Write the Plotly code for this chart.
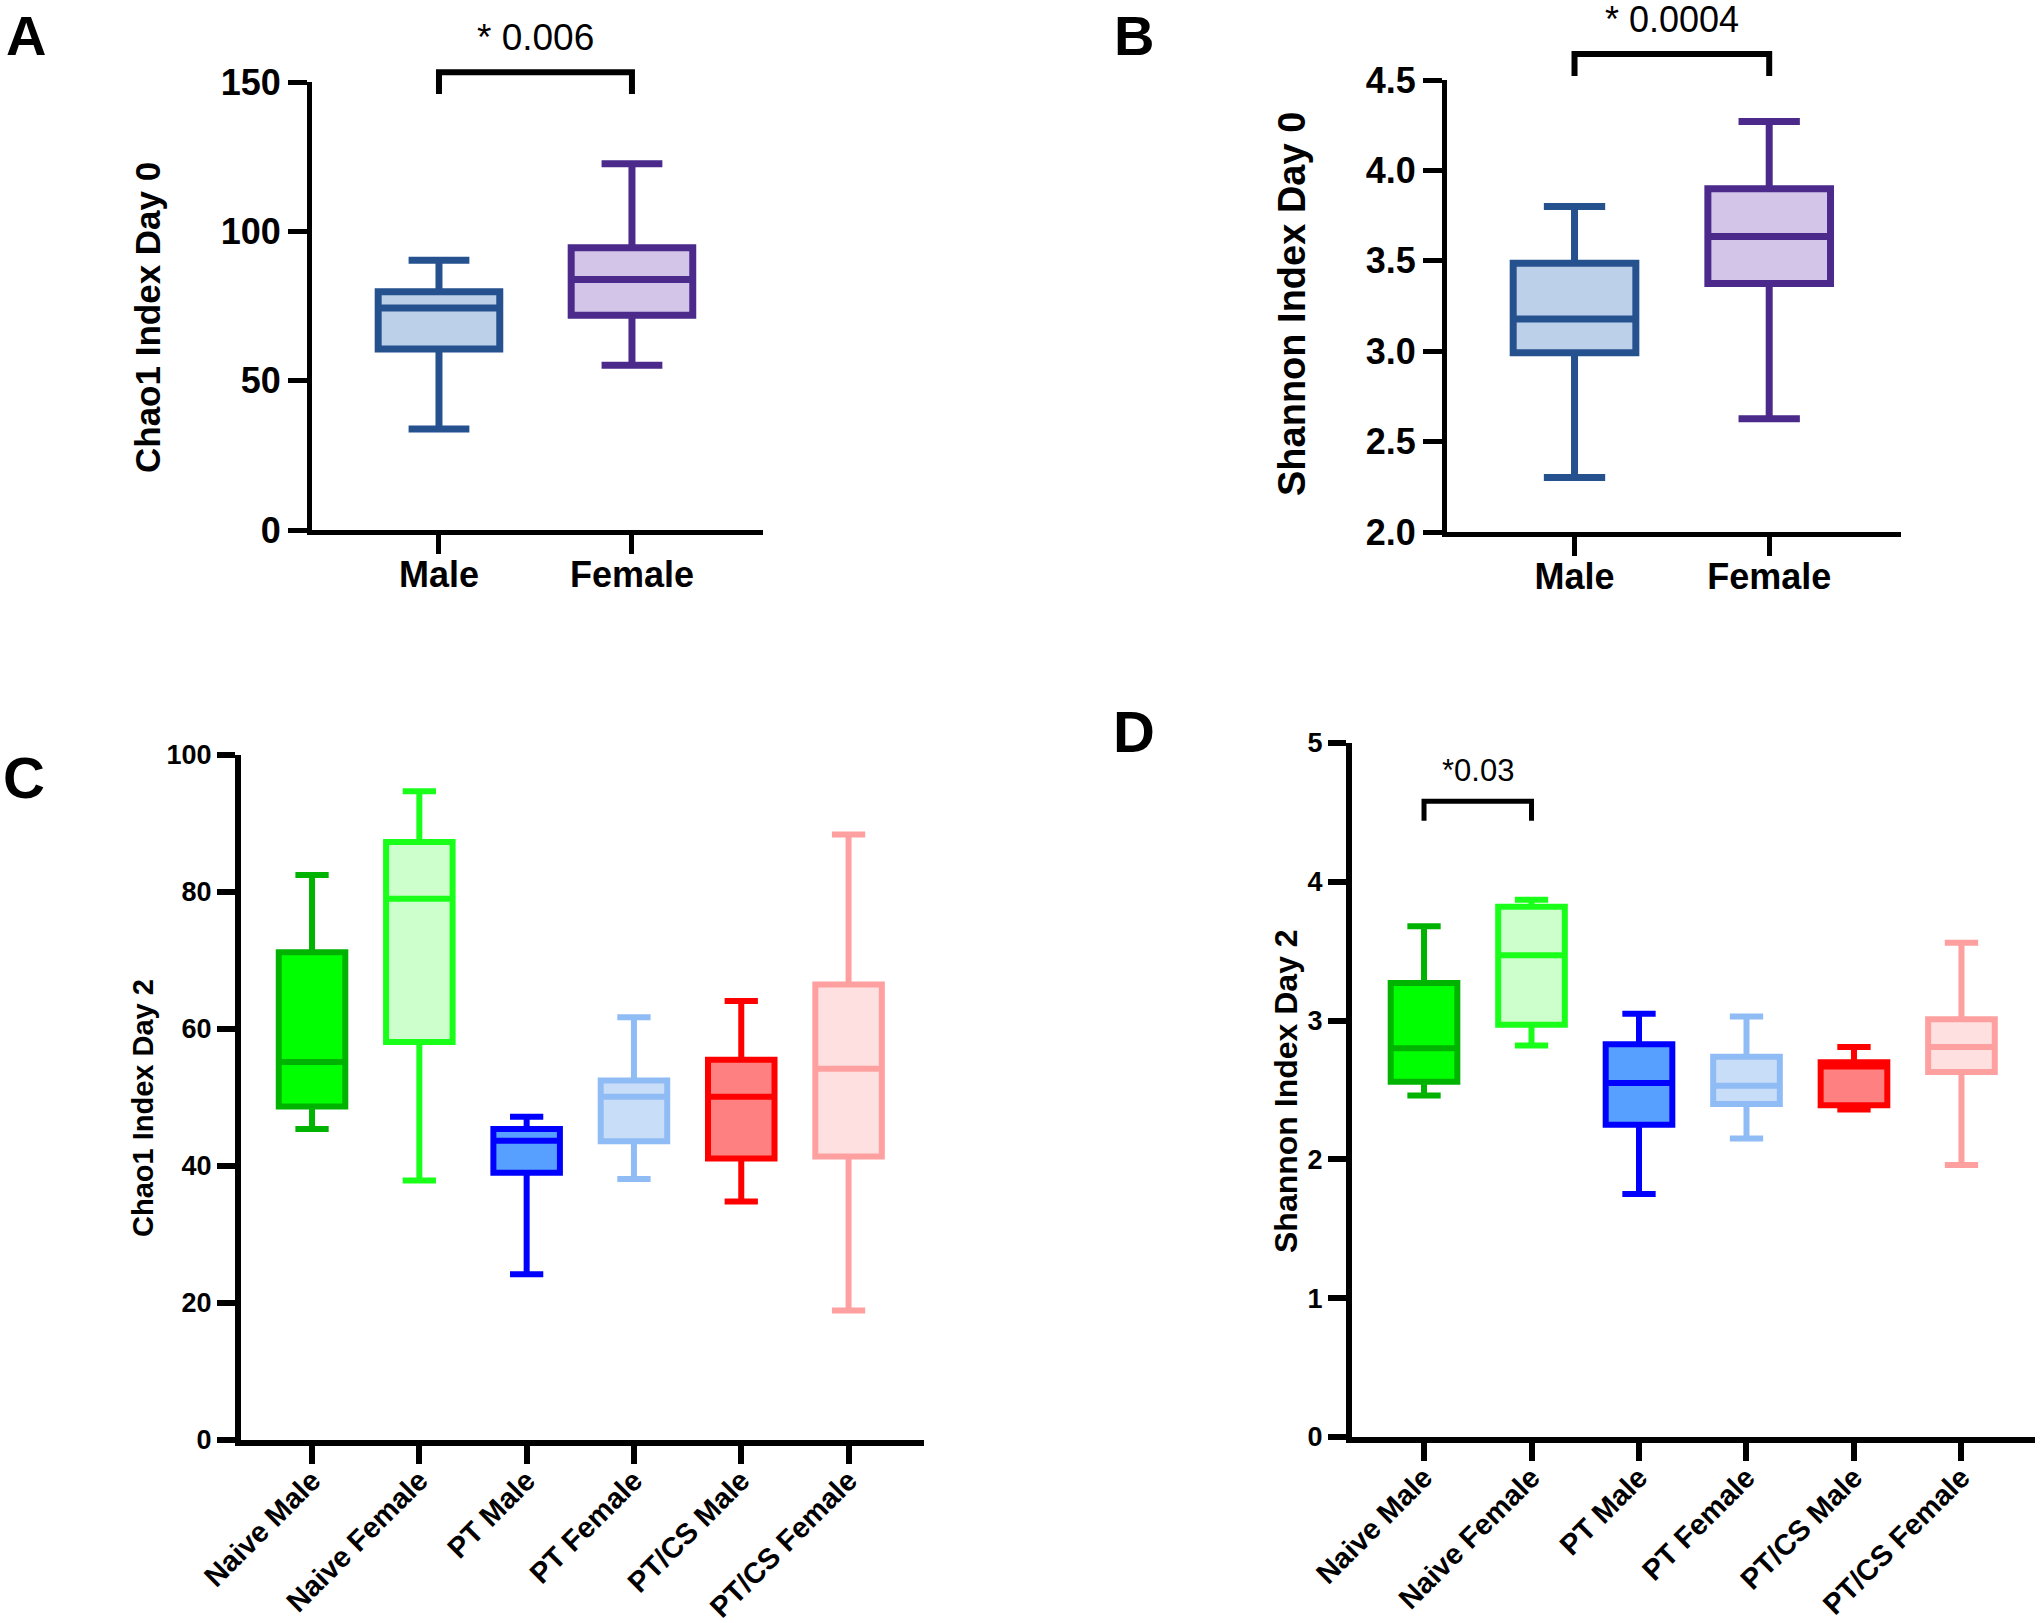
import plotly.graph_objects as go

W, H = 2040, 1623

# ---------------- data ----------------
cats_ab = ["Male", "Female"]
chao1_d0_upper = [90.3, 122.6]
chao1_d0_q3 = [79.8, 94.5]
chao1_d0_median = [74.3, 83.9]
chao1_d0_q1 = [60.6, 71.9]
chao1_d0_lower = [33.8, 55.2]

shannon_d0_upper = [3.80, 4.27]
shannon_d0_q3 = [3.486, 3.899]
shannon_d0_median = [3.178, 3.634]
shannon_d0_q1 = [2.991, 3.375]
shannon_d0_lower = [2.301, 2.626]

cats_cd = ["Naive Male", "Naive Female", "PT Male", "PT Female", "PT/CS Male", "PT/CS Female"]
chao1_d2_upper = [82.5, 94.7, 47.2, 61.7, 64.1, 88.4]
chao1_d2_q3 = [71.2, 87.3, 45.4, 52.5, 55.5, 66.5]
chao1_d2_median = [55.2, 79.0, 43.7, 50.1, 50.1, 54.2]
chao1_d2_q1 = [48.7, 58.1, 39.0, 43.6, 41.1, 41.4]
chao1_d2_lower = [45.4, 37.9, 24.2, 38.1, 34.8, 18.9]

shannon_d2_upper = [3.68, 3.87, 3.05, 3.03, 2.81, 3.56]
shannon_d2_q3 = [3.27, 3.82, 2.83, 2.74, 2.70, 3.01]
shannon_d2_median = [2.80, 3.47, 2.55, 2.53, 2.67, 2.81]
shannon_d2_q1 = [2.56, 2.97, 2.25, 2.40, 2.39, 2.63]
shannon_d2_lower = [2.46, 2.82, 1.75, 2.15, 2.36, 1.96]

yticks_a = [0, 50, 100, 150]
yticks_b = [2.0, 2.5, 3.0, 3.5, 4.0, 4.5]
yticks_c = [0, 20, 40, 60, 80, 100]
yticks_d = [0, 1, 2, 3, 4, 5]

# significance annotations: (category indices, bracket y, leg bottom y, text y, label)
sig_a = ([0, 1], 153.3, 146.0, 165.0, "* 0.006")
sig_b = ([0, 1], 4.644, 4.522, 4.835, "* 0.0004")
sig_d = ([0, 1], 4.58, 4.44, 4.80, "*0.03")

# ---------------- styles ----------------
edge_ab = ["#26518F", "#4B2A8C"]
fill_ab = ["#BDD0EA", "#D2C5E8"]
edge_cd = ["#00B300", "#1AFF1A", "#0000FF", "#90BCF5", "#FF0000", "#FFA0A0"]
fill_cd = ["#00FF00", "#CCFFCC", "#58A0FF", "#C8DDF8", "#FF8080", "#FFE0E0"]

FONT = "Liberation Sans, Arial, Helvetica, sans-serif"

fig = go.Figure()


def add_boxes(cats, lo, q1, med, q3, hi, edges, fills, xa, ya, width, lw):
    for i, c in enumerate(cats):
        fig.add_trace(go.Box(
            x=[c], q1=[q1[i]], median=[med[i]], q3=[q3[i]],
            lowerfence=[lo[i]], upperfence=[hi[i]],
            fillcolor=fills[i], line=dict(color=edges[i], width=lw),
            width=width, whiskerwidth=0.5, boxpoints=False,
            xaxis=xa, yaxis=ya, showlegend=False, hoverinfo="skip"))


add_boxes(cats_ab, chao1_d0_lower, chao1_d0_q1, chao1_d0_median, chao1_d0_q3, chao1_d0_upper,
          edge_ab, fill_ab, "x", "y", 0.63, 7)
add_boxes(cats_ab, shannon_d0_lower, shannon_d0_q1, shannon_d0_median, shannon_d0_q3, shannon_d0_upper,
          edge_ab, fill_ab, "x2", "y2", 0.63, 7)
add_boxes(cats_cd, chao1_d2_lower, chao1_d2_q1, chao1_d2_median, chao1_d2_q3, chao1_d2_upper,
          edge_cd, fill_cd, "x3", "y3", 0.62, 6)
add_boxes(cats_cd, shannon_d2_lower, shannon_d2_q1, shannon_d2_median, shannon_d2_q3, shannon_d2_upper,
          edge_cd, fill_cd, "x4", "y4", 0.62, 6)

# ---------------- axes ----------------
def px_dom_x(a, b):
    return [a / W, b / W]


def px_dom_y(top, bottom):
    return [1 - bottom / H, 1 - top / H]


panels = {
    "1": dict(xd=px_dom_x(312, 763), yd=px_dom_y(82, 530), xr=[-0.658, 1.679], yr=[0, 150],
              cats=cats_ab, yt=yticks_a, ytt=[str(v) for v in yticks_a], tfs=36, xfs=36, ang=0,
              lw=5, tl=19, xso=-10),
    "2": dict(xd=px_dom_x(1447, 1901), yd=px_dom_y(80, 532), xr=[-0.655, 1.677], yr=[2.0, 4.5],
              cats=cats_ab, yt=yticks_b, ytt=["%.1f" % v for v in yticks_b], tfs=36, xfs=36, ang=0,
              lw=5, tl=19, xso=-10),
    "3": dict(xd=px_dom_x(241, 924), yd=px_dom_y(755, 1440), xr=[-0.662, 5.703], yr=[0, 100],
              cats=cats_cd, yt=yticks_c, ytt=[str(v) for v in yticks_c], tfs=27, xfs=29, ang=-45,
              lw=6, tl=18, xso=-12),
    "4": dict(xd=px_dom_x(1352, 2035), yd=px_dom_y(743, 1437), xr=[-0.67, 5.684], yr=[0, 5],
              cats=cats_cd, yt=yticks_d, ytt=[str(v) for v in yticks_d], tfs=27, xfs=29, ang=-45,
              lw=6, tl=18, xso=-12),
}

layout_axes = {}
for k, p in panels.items():
    xname = "xaxis" if k == "1" else "xaxis" + k
    yname = "yaxis" if k == "1" else "yaxis" + k
    xid = "x" if k == "1" else "x" + k
    yid = "y" if k == "1" else "y" + k
    common = dict(showline=True, linecolor="black", linewidth=p["lw"], ticks="outside",
                  ticklen=p["tl"], tickwidth=p["lw"], tickcolor="black", showgrid=False,
                  zeroline=False, fixedrange=True, automargin=False)
    layout_axes[xname] = dict(domain=p["xd"], anchor=yid, type="category",
                              categoryorder="array", categoryarray=p["cats"], range=p["xr"],
                              tickangle=p["ang"], ticklabelstandoff=p["xso"],
                              tickfont=dict(family=FONT, size=p["xfs"], color="black", weight="bold"),
                              **common)
    layout_axes[yname] = dict(domain=p["yd"], anchor=xid, range=p["yr"], tickvals=p["yt"],
                              ticktext=p["ytt"],
                              tickfont=dict(family=FONT, size=p["tfs"], color="black", weight="bold"),
                              **common)

fig.update_layout(**layout_axes)


# ---------------- brackets & annotations ----------------
def y_to_paper(k, v):
    p = panels[k]
    d0, d1 = p["yd"]
    r0, r1 = p["yr"]
    return d0 + (v - r0) / (r1 - r0) * (d1 - d0)


shapes = []
annotations = []
for k, sig, fs, lw in [("1", sig_a, 37, 6), ("2", sig_b, 36, 6), ("4", sig_d, 31, 5)]:
    xid = "x" if k == "1" else "x" + k
    (i0, i1), ytop, ybot, ytxt, label = sig
    yt = y_to_paper(k, ytop)
    yb = y_to_paper(k, ybot)
    shapes.append(dict(type="path", xref=xid, yref="paper",
                       path=f"M {i0},{yb} L {i0},{yt} L {i1},{yt} L {i1},{yb}",
                       line=dict(color="black", width=lw), layer="above"))
    annotations.append(dict(x=(i0 + i1) / 2, xref=xid, y=y_to_paper(k, ytxt), yref="paper",
                            text=label, showarrow=False, xanchor="center", yanchor="middle",
                            font=dict(family=FONT, size=fs, color="black")))

titles = [("Chao1 Index Day 0", 147, 318, 35), ("Shannon Index Day 0", 1292, 304, 38),
          ("Chao1 Index Day 2", 143, 1108, 29), ("Shannon Index Day 2", 1286, 1091, 32)]
for t, xp, yp, fs in titles:
    annotations.append(dict(x=xp / W, y=1 - yp / H, xref="paper", yref="paper", text=t,
                            textangle=-90, showarrow=False, xanchor="center", yanchor="middle",
                            font=dict(family=FONT, size=fs, color="black", weight="bold")))

letters = [("A", 26, 2), ("B", 1134, 2), ("C", 24, 777), ("D", 1134, 731)]
for t, xp, yp in letters:
    if yp < 100:
        annotations.append(dict(x=xp / W, y=1 - yp / H, xref="paper", yref="paper", text=t,
                                showarrow=False, xanchor="center", yanchor="top",
                                font=dict(family=FONT, size=56, color="black", weight="bold")))
    else:
        annotations.append(dict(x=xp / W, y=1 - yp / H, xref="paper", yref="paper", text=t,
                                showarrow=False, xanchor="center", yanchor="middle",
                                font=dict(family=FONT, size=58, color="black", weight="bold")))

fig.update_layout(annotations=annotations, shapes=shapes, width=W, height=H, autosize=False,
                  margin=dict(l=0, r=0, t=0, b=0, pad=0, autoexpand=False),
                  paper_bgcolor="white", plot_bgcolor="white",
                  showlegend=False, boxmode="overlay")

fig.write_html("out.html", config={"displayModeBar": False, "staticPlot": True},
               post_script="document.body.style.margin='0';document.body.style.overflow='hidden';")
